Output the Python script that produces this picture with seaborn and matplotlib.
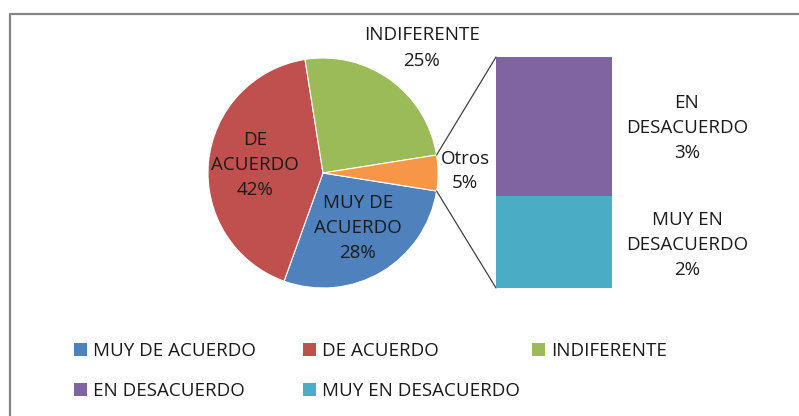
import numpy as np
import matplotlib
matplotlib.use("Agg")
import matplotlib.pyplot as plt
from matplotlib.patches import Patch
from matplotlib.lines import Line2D
import seaborn as sns

# ---- data ----
pie_labels = ["MUY DE\nACUERDO", "DE\nACUERDO", "INDIFERENTE", "Otros"]
pie_values = [28, 42, 25, 5]
bar_labels = ["MUY EN\nDESACUERDO", "EN\nDESACUERDO"]
bar_values = [2, 3]
legend_labels = ["MUY DE ACUERDO", "DE ACUERDO", "INDIFERENTE",
                 "EN DESACUERDO", "MUY EN DESACUERDO"]

pie_colors = ["#4F81BD", "#C0504D", "#9BBB59", "#F79646"]
bar_colors = ["#4BACC6", "#8064A2"]

sns.set_theme(style="white")
plt.rcParams["font.family"] = ["Open Sans", "DejaVu Sans"]

W, H = 799, 416
fig = plt.figure(figsize=(W / 100, H / 100), dpi=100)
fig.patch.set_facecolor("white")

def fx(px):
    return px / W

def fy(py):
    return 1 - py / H

# main axes in pixel coordinates (y up)
ax = fig.add_axes([0, 0, 1, 1])
ax.set_xlim(0, W)
ax.set_ylim(0, H)
ax.set_aspect("equal")
ax.axis("off")

cx, cy, r = 323, H - 173, 115
start = -9
ax.pie(pie_values, colors=pie_colors, startangle=start, counterclock=False,
       center=(cx, cy), radius=r, frame=False,
       wedgeprops=dict(linewidth=0.8, edgecolor="white"))
ax.set_xlim(0, W)
ax.set_ylim(0, H)
ax.axis("off")

fs = 13.5
ls = 1.5
tcol = "#1a1a1a"
# pie labels
lab_pos = [(358, 228), (255, 165), (422, 48), (465, 171)]
for lab, v, (px, py) in zip(pie_labels, pie_values, lab_pos):
    ax.text(px, H - py, f"{lab}\n{v}%", ha="center", va="center",
            fontsize=fs, color=tcol, linespacing=ls)

# bar axes
bx0, bx1, by0, by1 = 496, 612, 57, 288
bax = fig.add_axes([fx(bx0), fy(by1), (bx1 - bx0) / W, (by1 - by0) / H])
total = sum(bar_values)
cum = np.cumsum(bar_values)
sns.barplot(x=[0], y=[cum[1]], color=bar_colors[1], width=1.0, ax=bax,
            saturation=1, linewidth=0)
sns.barplot(x=[0], y=[cum[0]], color=bar_colors[0], width=1.0, ax=bax,
            saturation=1, linewidth=0)
bax.set_xlim(-0.5, 0.5)
bax.set_ylim(0, total)
bax.axis("off")

# bar labels
bar_lab_y = [245, 128]
for lab, v, py in zip(bar_labels, bar_values, bar_lab_y):
    ax.text(687, H - py, f"{lab}\n{v}%", ha="center", va="center",
            fontsize=fs, color=tcol, linespacing=ls)

# connector lines from Otros wedge edges to bar corners
a_top = np.deg2rad(start + pie_values[-1] / 100 * 360)
a_bot = np.deg2rad(start)
p_top = (cx + r * np.cos(a_top), cy + r * np.sin(a_top))
p_bot = (cx + r * np.cos(a_bot), cy + r * np.sin(a_bot))
ax.plot([p_top[0], bx0], [p_top[1], H - by0], color="#404040", lw=0.9)
ax.plot([p_bot[0], bx0], [p_bot[1], H - by1], color="#404040", lw=0.9)

# legend entries
leg_colors = [pie_colors[0], pie_colors[1], pie_colors[2], bar_colors[1], bar_colors[0]]
leg_pos = [(74, 351), (303, 351), (532, 351), (74, 391), (303, 391)]
for lab, c, (xpx, ypx) in zip(legend_labels, leg_colors, leg_pos):
    leg = fig.legend([Patch(facecolor=c, edgecolor="none")], [lab],
                     loc="center left", bbox_to_anchor=(fx(xpx), fy(ypx)),
                     frameon=False, fontsize=fs, handlelength=0.7, handleheight=0.7,
                     handletextpad=0.33, borderpad=0, borderaxespad=0)
    for t in leg.get_texts():
        t.set_color(tcol)

# outer frame (clipped at right/bottom)
fig.add_artist(Line2D([fx(10), fx(10), fx(W + 5)], [fy(H + 5), fy(14), fy(14)],
                      color="#868686", lw=1.6, transform=fig.transFigure))

fig.savefig("out.png", dpi=100, facecolor="white")
